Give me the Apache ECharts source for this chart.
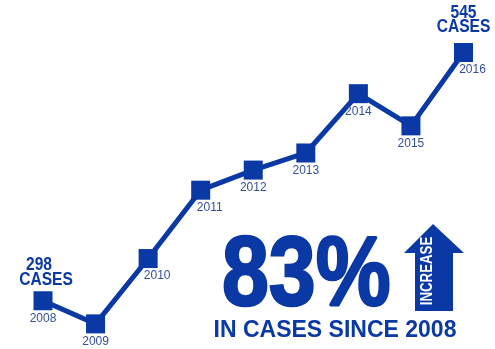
<!DOCTYPE html>
<html>
<head>
<meta charset="utf-8">
<script src="https://cdn.jsdelivr.net/npm/echarts@6/dist/echarts.min.js"></script>
<style>html,body{margin:0;padding:0;background:#fff}#c{width:495px;height:349px}</style>
</head>
<body>
<div id="c"></div>
<script>
const years = ['2008','2009','2010','2011','2012','2013','2014','2015','2016'];
const cases = [298, 275, 340, 408, 428, 445, 504, 472, 545];
const headline = '83%';
const subline = 'IN CASES SINCE 2008';
const arrowWord = 'INCREASE';
const unitWord = 'CASES';

const BLUE = '#0a38a4';
const FONT = '"Liberation Sans", Arial, sans-serif';
const chart = echarts.init(document.getElementById('c'));
const shifted = {2: 9, 3: 9, 8: 9};
const lineData = cases.map((v, i) => ({
  value: v,
  label: { offset: [shifted[i] || 0, 0] }
}));
chart.setOption({
  animation: false,
  grid: { left: 43, right: 31.5, top: 37.4, height: 311.9 },
  xAxis: { type: 'category', data: years, boundaryGap: false, show: false },
  yAxis: { type: 'value', min: 250, max: 560, show: false },
  series: [
    {
      type: 'line',
      data: lineData,
      symbol: 'rect',
      symbolSize: 19,
      lineStyle: { width: 5, color: BLUE },
      itemStyle: { color: BLUE },
      label: {
        show: true, position: 'bottom', distance: 2,
        formatter: p => years[p.dataIndex],
        color: '#34509c', fontSize: 12, fontFamily: FONT
      }
    }
  ]
});

// end-point annotations placed through the chart's own scales
const first = 0, last = cases.length - 1;
const ends = [
  { i: first, dx: [-4, 3], dy: [-36, -21] },
  { i: last, dx: [0, 0], dy: [-40, -25.5] }
];
const g = [];
ends.forEach(e => {
  const p = chart.convertToPixel({ seriesIndex: 0 }, [e.i, cases[e.i]]);
  [String(cases[e.i]), unitWord].forEach((t, k) => {
    g.push({
      type: 'text', x: p[0] + e.dx[k], y: p[1] + e.dy[k], scaleX: 0.82,
      style: { text: t, x: 0, y: 0, fill: BLUE, textAlign: 'center', textVerticalAlign: 'middle',
        font: 'bold 19px ' + FONT }
    });
  });
});
g.push(
  {
    type: 'text', x: 222, y: 229, scaleX: 0.86,
    style: {
      text: headline, x: 0, y: 0, fill: BLUE, stroke: BLUE, lineWidth: 2.5, textVerticalAlign: 'top',
      font: 'bold 98px ' + FONT
    }
  },
  {
    type: 'text',
    style: {
      text: subline, x: 335, y: 331, fill: BLUE, textAlign: 'center', textVerticalAlign: 'middle',
      font: 'bold 23px ' + FONT
    }
  },
  {
    type: 'polygon',
    shape: { points: [[433,224],[464,253],[453,253],[453,311],[415,311],[415,253],[404,253]] },
    style: { fill: BLUE }
  },
  {
    type: 'text', x: 427, y: 271, rotation: Math.PI / 2, scaleX: 0.78,
    style: {
      text: arrowWord, x: 0, y: 0, fill: '#ffffff', textAlign: 'center', textVerticalAlign: 'middle',
      font: 'bold 17px ' + FONT
    }
  }
);
chart.setOption({ graphic: g });
</script>
</body>
</html>
